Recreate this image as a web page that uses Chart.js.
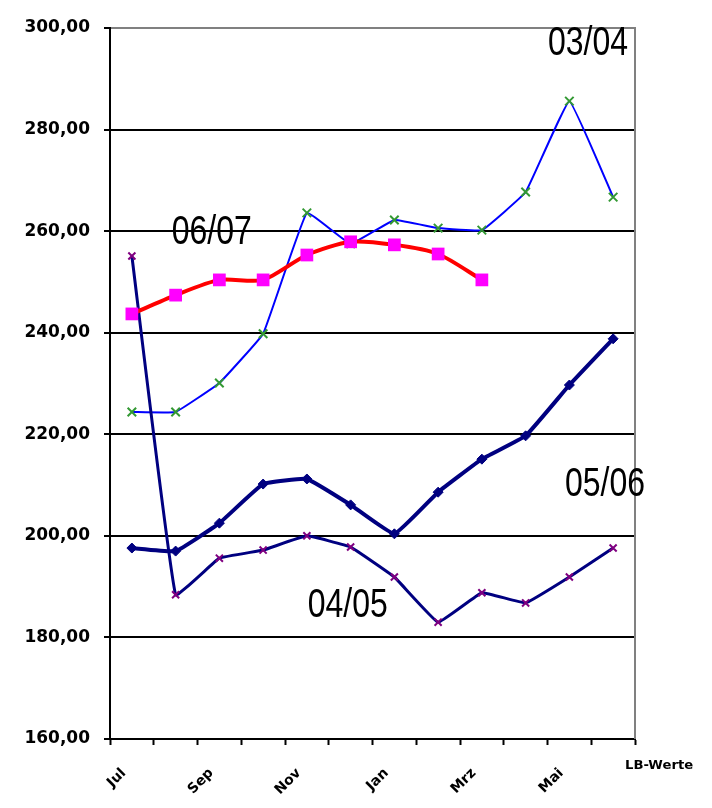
<!DOCTYPE html>
<html>
<head>
<meta charset="utf-8">
<title>LB-Werte</title>
<script src="https://cdn.jsdelivr.net/npm/chart.js@4.4.1/dist/chart.umd.min.js"></script>
<style>
    html, body { margin: 0; padding: 0; background: #fff; }
    #wrap { width: 712px; height: 808px; }
</style>
</head>
<body>
<div id="wrap"><canvas id="lb-chart" width="712" height="808"></canvas></div>
<script>
// Months of the season (Jul - Jun)
const months = ['Jul', 'Aug', 'Sep', 'Okt', 'Nov', 'Dez', 'Jan', 'Feb', 'Mrz', 'Apr', 'Mai', 'Jun'];

// Values per season
const season0304 = [224.4, 224.4, 230.1, 239.8, 263.6, 257.5, 262.2, 260.6, 260.2, 267.7, 285.6, 266.7];
const season0405 = [255.1, 188.4, 195.6, 197.2, 200.0, 197.8, 191.9, 183.0, 188.8, 186.8, 191.9, 197.6];
const season0506 = [197.6, 197.0, 202.5, 210.2, 211.2, 206.1, 200.4, 208.6, 215.1, 219.7, 229.7, 238.8];
const season0607 = [243.7, 247.4, 250.4, 250.4, 255.3, 257.9, 257.3, 255.5, 250.4];

// Axis range
const yMin = 160;
const yMax = 300;
const yStep = 20;

// Series names written inside the plot
const seriesNames = ['03/04', '04/05', '05/06', '06/07'];
const axisNote = 'LB-Werte';

// Where the series names sit (category index, value)
const nameSpots = {
    '03/04': [9.51, 294.7],
    '06/07': [0.91, 257.5],
    '05/06': [9.9, 207.9],
    '04/05': [4.02, 184.0],
};

// Frame: white background, grey right border, series names, axis note
const framePlugin = {
    id: 'frame',
    beforeDraw(chart) {
        const { ctx } = chart;
        ctx.save();
        ctx.fillStyle = '#fff';
        ctx.fillRect(0, 0, chart.width, chart.height);
        ctx.restore();
    },
    afterDraw(chart) {
        const { ctx, chartArea, scales } = chart;
        ctx.save();
        // grey right border of the plot area
        ctx.strokeStyle = '#808080';
        ctx.lineWidth = 2;
        ctx.beginPath();
        ctx.moveTo(chartArea.right, chartArea.top - 1);
        ctx.lineTo(chartArea.right, chartArea.bottom);
        ctx.stroke();

        // series names (narrow font)
        ctx.fillStyle = '#000';
        ctx.textBaseline = 'alphabetic';
        ctx.font = '40px "Liberation Sans", Arial, sans-serif';
        seriesNames.forEach(name => {
            const [idx, val] = nameSpots[name];
            const x = scales.x.getPixelForValue(idx);
            const y = scales.y.getPixelForValue(val);
            ctx.save();
            ctx.translate(x, y);
            ctx.scale(0.8, 1);
            ctx.fillText(name, 0, 0);
            ctx.restore();
        });

        // note under the right end of the x axis
        ctx.font = 'bold 12px "DejaVu Sans", sans-serif';
        ctx.textAlign = 'left';
        ctx.save();
        ctx.translate(chartArea.right - 10, chartArea.bottom + 30);
        ctx.scale(1.1, 1);
        ctx.fillText(axisNote, 0, 0);
        ctx.restore();
        ctx.restore();
    }
};

const fmt = v => v.toFixed(2).replace('.', ',');

const ctx = document.getElementById('lb-chart').getContext('2d');
new Chart(ctx, {
    type: 'line',
    data: {
        labels: months,
        datasets: [
            {
                label: '06/07',
                data: season0607,
                borderColor: '#ff0000',
                borderWidth: 4,
                pointStyle: 'rect',
                pointRadius: 9,
                pointBackgroundColor: '#ff00ff',
                pointBorderColor: '#ff00ff',
                pointBorderWidth: 0,
                tension: 0.25,
            },
            {
                label: '05/06',
                data: season0506,
                borderColor: '#000080',
                borderWidth: 4,
                pointStyle: 'rectRot',
                pointRadius: 5,
                pointBackgroundColor: '#000080',
                pointBorderColor: '#000080',
                pointBorderWidth: 1,
                tension: 0.1,
            },
            {
                label: '04/05',
                data: season0405,
                borderColor: '#000080',
                borderWidth: 3,
                pointStyle: 'crossRot',
                pointRadius: 5,
                pointBorderColor: '#800080',
                pointBorderWidth: 2,
                tension: 0.08,
            },
            {
                label: '03/04',
                data: season0304,
                borderColor: '#0000ff',
                borderWidth: 2,
                pointStyle: 'crossRot',
                pointRadius: 6,
                pointBorderColor: '#339933',
                pointBorderWidth: 2,
                tension: 0.08,
            },
        ],
    },
    options: {
        responsive: false,
        animation: false,
        devicePixelRatio: 1,
        layout: { padding: { top: 28, right: 77, left: 0, bottom: 0 } },
        plugins: {
            legend: { display: false },
            tooltip: { enabled: false },
        },
        scales: {
            x: {
                offset: true,
                grid: {
                    offset: true,
                    drawOnChartArea: false,
                    drawTicks: true,
                    tickLength: 6,
                    tickWidth: 2,
                    tickColor: '#000',
                },
                border: { display: true, color: '#000', width: 2 },
                ticks: {
                    autoSkip: false,
                    minRotation: 45,
                    maxRotation: 45,
                    padding: 20,
                    labelOffset: -8,
                    color: '#000',
                    font: { family: '"DejaVu Sans", sans-serif', size: 14, weight: 'bold' },
                    callback: (val, i) => (i % 2 === 0 ? months[i] : ''),
                },
                afterFit: scale => { scale.height = 69; },
            },
            y: {
                min: yMin,
                max: yMax,
                grid: {
                    color: c => (c.tick && c.tick.value === yMax ? '#808080' : '#000'),
                    lineWidth: 2,
                    drawTicks: true,
                    tickLength: 6,
                    tickColor: '#000',
                    tickWidth: 2,
                },
                border: { display: true, color: '#000', width: 2 },
                ticks: {
                    stepSize: yStep,
                    padding: 14,
                    color: '#000',
                    font: { family: '"DejaVu Sans", sans-serif', size: 17, weight: 'bold' },
                    callback: v => fmt(v),
                },
                afterFit: scale => { scale.width = 110; },
            },
        },
    },
    plugins: [framePlugin],
});
</script>
</body>
</html>
